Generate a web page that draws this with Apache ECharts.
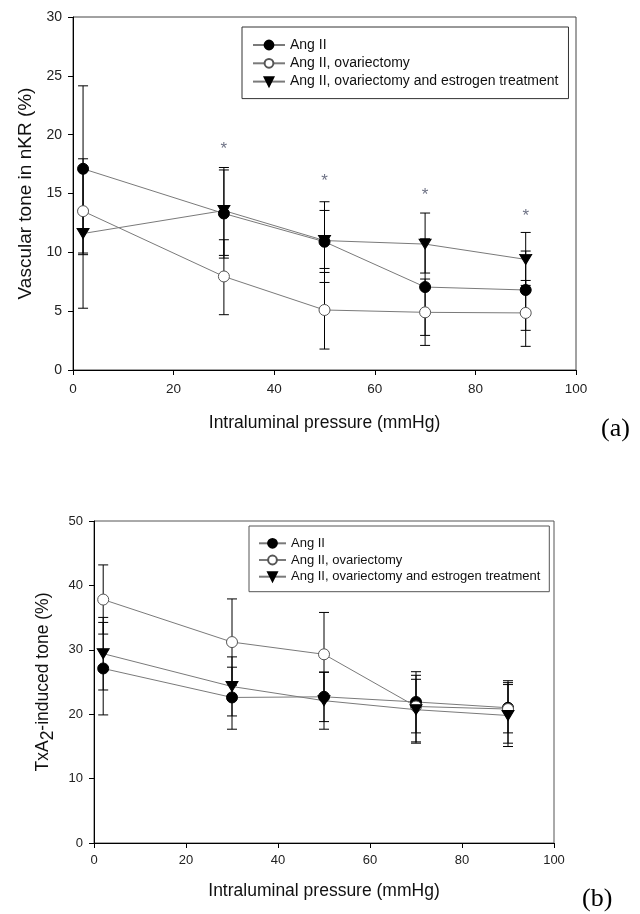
<!DOCTYPE html>
<html>
<head>
<meta charset="utf-8">
<script src="https://cdn.jsdelivr.net/npm/echarts@6/dist/echarts.min.js"></script>
<style>html,body{margin:0;padding:0;background:#fff;}#c{width:640px;height:914px;}</style>
</head>
<body>
<div id="c"></div>
<script>
// ---------- data ----------
const pressure = [2, 30, 50, 70, 90];
const seriesNames = ['Ang II', 'Ang II, ovariectomy', 'Ang II, ovariectomy and estrogen treatment'];

// Panel (a): vascular tone in nKR (%)
const aAng = [17.1, 13.3, 10.9, 7.05, 6.8];
const aAngUp = [24.15, 17.0, 13.56, 11.15, 10.11];
const aAngLo = [9.94, 9.51, 8.29, 2.94, 3.37];
const aOvx = [13.5, 7.95, 5.1, 4.9, 4.85];
const aOvxUp = [17.2, 11.07, 8.63, 7.73, 7.61];
const aOvxLo = [9.8, 4.7, 1.78, 2.09, 2.01];
const aEst = [11.6, 13.55, 11.0, 10.7, 9.4];
const aEstUp = [17.95, 17.21, 14.3, 13.34, 11.69];
const aEstLo = [5.25, 9.74, 7.44, 8.24, 7.19];
const aStarX = [30, 50, 70, 90];
const aStarY = [19.1, 16.4, 15.2, 13.4];

// Panel (b): TxA2-induced tone (%)
const bAng = [27.1, 22.6, 22.7, 21.9, 21.0];
const bAngUp = [34.25, 27.3, 26.55, 26.6, 25.2];
const bAngLo = [19.89, 17.67, 18.85, 17.1, 17.1];
const bOvx = [37.8, 31.2, 29.3, 21.2, 20.8];
const bOvxUp = [43.18, 37.9, 35.8, 26.04, 24.9];
const bOvxLo = [32.44, 24.5, 22.8, 15.7, 15.5];
const bEst = [29.4, 24.3, 22.1, 20.7, 19.8];
const bEstUp = [35.03, 28.9, 26.5, 25.42, 24.6];
const bEstLo = [23.76, 19.73, 17.67, 15.5, 14.98];

const xTicks = [0, 20, 40, 60, 80, 100];
const aYTicks = [0, 5, 10, 15, 20, 25, 30];
const bYTicks = [0, 10, 20, 30, 40, 50];

// ---------- helpers ----------
const SANS = '"Liberation Sans", Arial, sans-serif';
const SERIF = '"Liberation Serif", "Times New Roman", serif';
const LINE_COLOR = '#7a7a7a';
const triDown = 'path://M0,0 L10,0 L5,9 Z';

function pts(ys) { return pressure.map((x, i) => [x, ys[i]]); }
function errData(lo, up) { return pressure.map((x, i) => [x, lo[i], up[i]]); }

const styles = [
  { symbol: 'circle', symbolSize: 11, itemStyle: { color: '#000', borderColor: '#000', borderWidth: 1 } },
  { symbol: 'circle', symbolSize: 11, itemStyle: { color: '#fff', borderColor: '#555', borderWidth: 1 } },
  { symbol: triDown, symbolSize: [12, 10], itemStyle: { color: '#000', borderColor: '#000', borderWidth: 1 } }
];

function lineSeries(idx, name, ys, axisIndex) {
  return Object.assign({
    type: 'line', name: name, data: pts(ys),
    xAxisIndex: axisIndex, yAxisIndex: axisIndex,
    lineStyle: { color: LINE_COLOR, width: 1 },
    showAllSymbol: true, z: 5, animation: false
  }, styles[idx]);
}

function errSeries(name, lo, up, axisIndex) {
  return {
    type: 'custom', name: name, xAxisIndex: axisIndex, yAxisIndex: axisIndex,
    data: errData(lo, up), z: 3, animation: false, silent: true,
    encode: { x: 0, y: [1, 2] },
    renderItem: function (params, api) {
      const x = api.value(0);
      const pLo = api.coord([x, api.value(1)]);
      const pHi = api.coord([x, api.value(2)]);
      const w = 5;
      const st = { stroke: '#000', lineWidth: 1 };
      return {
        type: 'group', children: [
          { type: 'line', shape: { x1: pLo[0], y1: pLo[1], x2: pHi[0], y2: pHi[1] }, style: st },
          { type: 'line', shape: { x1: pHi[0] - w, y1: pHi[1], x2: pHi[0] + w, y2: pHi[1] }, style: st },
          { type: 'line', shape: { x1: pLo[0] - w, y1: pLo[1], x2: pLo[0] + w, y2: pLo[1] }, style: st }
        ]
      };
    }
  };
}

function xAxis(gridIndex, fontSize, nameSize, nameGap, margin) {
  return {
    type: 'value', gridIndex: gridIndex, min: 0, max: 100, interval: 20,
    name: 'Intraluminal pressure (mmHg)', nameLocation: 'middle', nameGap: nameGap,
    nameTextStyle: { fontFamily: SANS, fontSize: nameSize, color: '#111' },
    axisLine: { show: true, onZero: false, lineStyle: { color: '#000', width: 1 } },
    axisTick: { show: true, inside: false, length: 5, lineStyle: { color: '#000' } },
    axisLabel: { fontFamily: SANS, fontSize: fontSize, color: '#222', margin: margin,
      customValues: xTicks },
    splitLine: { show: false }
  };
}

const option = {
  animation: false,
  backgroundColor: '#fff',
  grid: [
    { left: 73, top: 17, width: 503, height: 353, show: true, borderColor: '#444', borderWidth: 1, containLabel: false },
    { left: 94, top: 521, width: 460, height: 322, show: true, borderColor: '#555', borderWidth: 1, containLabel: false }
  ],
  xAxis: [
    xAxis(0, 13.5, 17.5, 44, 12),
    xAxis(1, 13, 17.5, 39, 11)
  ],
  yAxis: [
    {
      type: 'value', gridIndex: 0, min: 0, max: 30, interval: 5,
      name: 'Vascular tone in nKR (%)', nameLocation: 'middle', nameGap: 37, nameRotate: 90,
      nameTextStyle: { fontFamily: SANS, fontSize: 19, color: '#111' },
      axisLine: { show: true, lineStyle: { color: '#000', width: 1 } },
      axisTick: { show: true, inside: false, length: 5, lineStyle: { color: '#000' } },
      axisLabel: { fontFamily: SANS, fontSize: 14, color: '#222', margin: 11, customValues: aYTicks },
      splitLine: { show: false }
    },
    {
      type: 'value', gridIndex: 1, min: 0, max: 50, interval: 10,
      name: 'TxA{sub|2}-induced tone (%)', nameLocation: 'middle', nameGap: 37, nameRotate: 90,
      nameTextStyle: { fontFamily: SANS, fontSize: 17.5, color: '#111',
        rich: { sub: { fontFamily: SANS, fontSize: 17.5, color: '#111', verticalAlign: 'bottom', padding: [9, 0, 0, 0] } } },
      axisLine: { show: true, lineStyle: { color: '#000', width: 1 } },
      axisTick: { show: true, inside: false, length: 5, lineStyle: { color: '#000' } },
      axisLabel: { fontFamily: SANS, fontSize: 13, color: '#222', margin: 11, customValues: bYTicks },
      splitLine: { show: false }
    }
  ],
  legend: [
    {
      data: seriesNames, orient: 'vertical', left: 242, top: 27,
      padding: [11, 10, 10, 10], itemGap: 4.3, itemWidth: 32, itemHeight: 11,
      borderColor: '#333', borderWidth: 1, backgroundColor: '#fff',
      textStyle: { fontFamily: SANS, fontSize: 14, color: '#111', lineHeight: 14 },
      selectedMode: false
    },
    {
      data: seriesNames, orient: 'vertical', left: 249, top: 526,
      padding: [10.8, 9, 8.5, 9], itemGap: 3.7, itemWidth: 27, itemHeight: 11,
      borderColor: '#555', borderWidth: 1, backgroundColor: '#fff',
      textStyle: { fontFamily: SANS, fontSize: 13, color: '#111', lineHeight: 13 },
      selectedMode: false
    }
  ],
  graphic: [
    { type: 'text', left: 601, top: 416, style: { text: '(a)', fontFamily: SERIF, fontSize: 26, fill: '#000' } },
    { type: 'text', left: 582, top: 886, style: { text: '(b)', fontFamily: SERIF, fontSize: 26, fill: '#000' } }
  ],
  series: [
    errSeries('err-a-0', aAngLo, aAngUp, 0),
    errSeries('err-a-1', aOvxLo, aOvxUp, 0),
    errSeries('err-a-2', aEstLo, aEstUp, 0),
    lineSeries(0, seriesNames[0], aAng, 0),
    lineSeries(1, seriesNames[1], aOvx, 0),
    lineSeries(2, seriesNames[2], aEst, 0),
    {
      type: 'scatter', name: 'stars-a', xAxisIndex: 0, yAxisIndex: 0,
      data: aStarX.map((x, i) => [x, aStarY[i]]), symbolSize: 1,
      itemStyle: { color: 'rgba(0,0,0,0)' }, silent: true, z: 6,
      label: { show: true, position: 'inside', formatter: '*', fontFamily: SANS, fontSize: 17, color: '#4a4f66', offset: [0, 4] }
    },
    errSeries('err-b-0', bAngLo, bAngUp, 1),
    errSeries('err-b-1', bOvxLo, bOvxUp, 1),
    errSeries('err-b-2', bEstLo, bEstUp, 1),
    lineSeries(0, seriesNames[0], bAng, 1),
    lineSeries(1, seriesNames[1], bOvx, 1),
    lineSeries(2, seriesNames[2], bEst, 1)
  ]
};

const chart = echarts.init(document.getElementById('c'), null, { renderer: 'canvas' });
chart.setOption(option);
</script>
</body>
</html>
